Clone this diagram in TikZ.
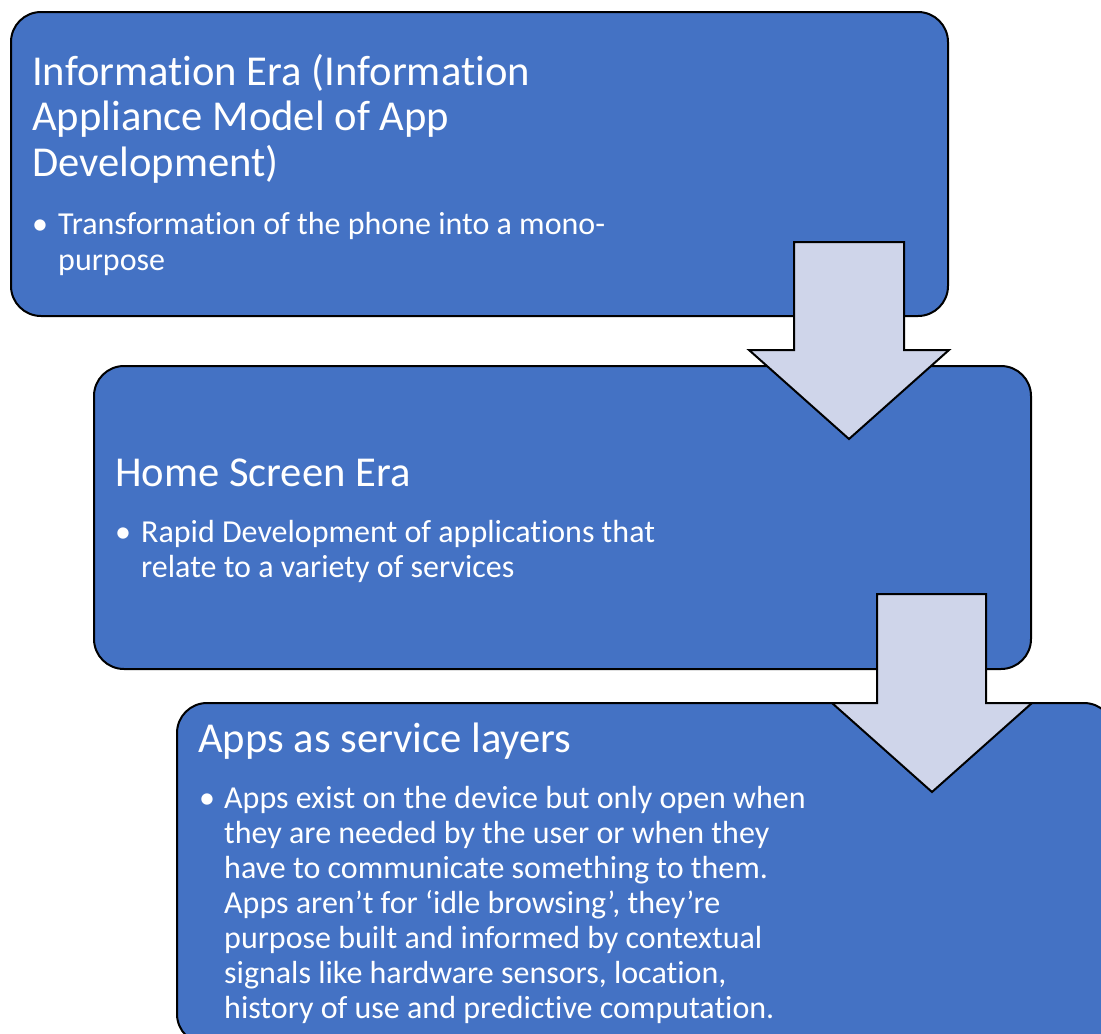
\documentclass[tikz,border=0pt]{standalone}
\usepackage{fontspec}
\setmainfont{Carlito}[Ligatures={NoCommon,NoContextual,NoRare}, Contextuals={NoAlternate}]
\definecolor{boxblue}{HTML}{4472C4}
\definecolor{arrowfill}{HTML}{CFD5EA}
\begin{document}
\begin{tikzpicture}[x=1pt,y=-1pt,
  stepbox/.style={draw=black, line width=2pt, fill=boxblue, rounded corners=30pt, anchor=north west, inner sep=0pt, outer sep=0pt},
  downarrow/.style={draw=black, line width=2pt, fill=arrowfill, line join=miter},
  titletext/.style={anchor=base west, inner sep=0pt, text=white, font=\fontsize{42.6}{45}\selectfont},
  bullettext/.style={anchor=base west, inner sep=0pt, text=white, font=\fontsize{32}{36}\selectfont},
  bulletdot/.style={anchor=base, inner sep=0pt, text=white, font=\fontsize{32}{36}\selectfont},
]
\useasboundingbox (0,0) rectangle (1101,1034);
\clip (0,0) rectangle (1101,1034);

% boxes
\node[stepbox, minimum width=937pt, minimum height=304pt] (b1) at (11,12) {};
\node[stepbox, minimum width=937pt, minimum height=303pt] (b2) at (94,366) {};
\node[stepbox, minimum width=937pt, minimum height=341pt] (b3) at (177,703) {};

% arrows
\draw[downarrow] (794,242) -- (904,242) -- (904,350) -- (949,350) -- (849,439) -- (749,350) -- (794,350) -- cycle;
\draw[downarrow] (877,594) -- (986,594) -- (986,703) -- (1032,703) -- (932,792) -- (832,703) -- (877,703) -- cycle;

% box 1 text
\node[titletext] (t1a) at (32,85) {Information Era (Information};
\node[titletext] (t1b) at (32,130.5) {Appliance Model of App};
\node[titletext] (t1c) at (32,176) {Development)};
\node[bulletdot] (d1) at (40,234) {•};
\node[bullettext] (l1a) at (58,234) {Transformation of the phone into a mono-};
\node[bullettext] (l1b) at (58,270) {purpose};

% box 2 text
\node[titletext] (t2a) at (115,486.5) {Home Screen Era};
\node[bulletdot] (d2) at (123,542) {•};
\node[bullettext] (l2a) at (141,542) {Rapid Development of applications that};
\node[bullettext] (l2b) at (141,577) {relate to a variety of services};

% box 3 text
\node[titletext] (t3a) at (198,752) {Apps as service layers};
\node[bulletdot] (d3) at (207,808) {•};
\node[bullettext] (l3a) at (224,808) {Apps exist on the device but only open when};
\node[bullettext] (l3b) at (224,843) {they are needed by the user or when they};
\node[bullettext] (l3c) at (224,878) {have to communicate something to them.};
\node[bullettext] (l3d) at (224,913) {Apps aren’t for ‘idle browsing’, they’re};
\node[bullettext] (l3e) at (224,948) {purpose built and informed by contextual};
\node[bullettext] (l3f) at (224,983) {signals like hardware sensors, location,};
\node[bullettext] (l3g) at (224,1018) {history of use and predictive computation.};
\end{tikzpicture}
\end{document}
